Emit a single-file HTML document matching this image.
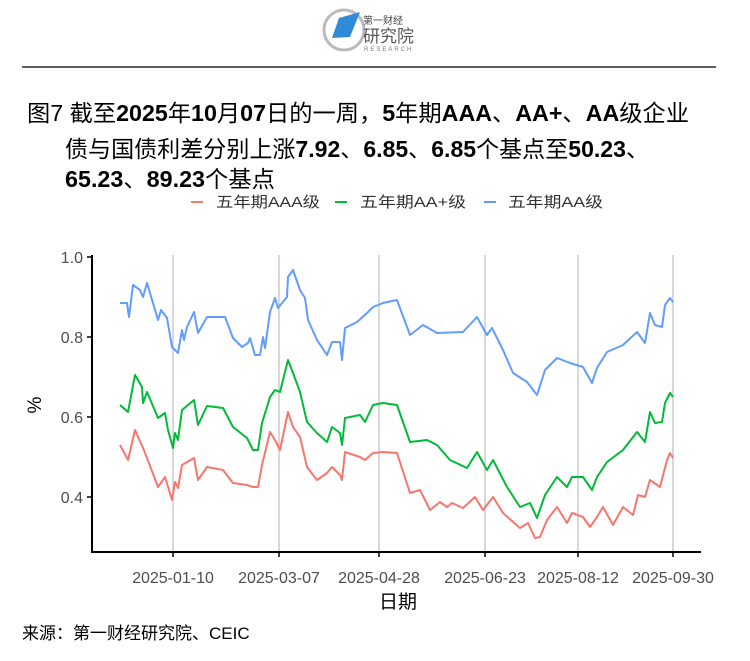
<!DOCTYPE html>
<html><head><meta charset="utf-8"><style>
body{margin:0;background:#fff;width:750px;height:661px;overflow:hidden;font-family:"Liberation Sans","Noto Sans CJK SC",sans-serif}
</style></head><body>
<svg width="750" height="661" xmlns="http://www.w3.org/2000/svg" style="position:absolute;left:0;top:0">
<!-- logo -->
<circle cx="344" cy="30" r="20" fill="none" stroke="#bbb" stroke-width="3"/>
<polygon points="332,38 339,18 360,12 350,37" fill="#2f8ad8"/>
<text x="363" y="24" font-size="10" fill="#444" font-family="Liberation Sans,Noto Sans CJK SC,sans-serif">第一财经</text>
<text x="363" y="42" font-size="17" fill="#555" font-family="Liberation Sans,Noto Sans CJK SC,sans-serif">研究院</text>
<text x="364" y="51" font-size="6" fill="#777" letter-spacing="2" font-family="Liberation Sans,sans-serif">RESEARCH</text>
<line x1="22" y1="67" x2="716" y2="67" stroke="#000" stroke-width="1.2"/>
<g font-size="23" fill="#000" font-family="Liberation Sans,Noto Sans CJK SC,sans-serif">
<text x="27" y="121" textLength="662" lengthAdjust="spacingAndGlyphs">图7  截至<tspan font-weight="bold">2025</tspan>年<tspan font-weight="bold">10</tspan>月<tspan font-weight="bold">07</tspan>日的一周，<tspan font-weight="bold">5</tspan>年期<tspan font-weight="bold">AAA</tspan>、<tspan font-weight="bold">AA+</tspan>、<tspan font-weight="bold">AA</tspan>级企业</text>
<text x="65" y="157" textLength="584" lengthAdjust="spacingAndGlyphs">债与国债利差分别上涨<tspan font-weight="bold">7.92</tspan>、<tspan font-weight="bold">6.85</tspan>、<tspan font-weight="bold">6.85</tspan>个基点至<tspan font-weight="bold">50.23</tspan>、</text>
<text x="65" y="187" textLength="210" lengthAdjust="spacingAndGlyphs"><tspan font-weight="bold">65.23</tspan>、<tspan font-weight="bold">89.23</tspan>个基点</text>
</g>
<!-- legend -->
<g font-size="15" fill="#333">
<line x1="191" y1="202" x2="203" y2="202" stroke="#F8766D" stroke-width="2"/>
<text x="216" y="207" textLength="104" lengthAdjust="spacingAndGlyphs">五年期AAA级</text>
<line x1="335" y1="202" x2="347" y2="202" stroke="#00BA38" stroke-width="2"/>
<text x="360" y="207" textLength="106" lengthAdjust="spacingAndGlyphs">五年期AA+级</text>
<line x1="484" y1="202" x2="496" y2="202" stroke="#619CFF" stroke-width="2"/>
<text x="508" y="207" textLength="95" lengthAdjust="spacingAndGlyphs">五年期AA级</text>
</g>
<!-- grid -->
<g stroke="#bdbdbd" stroke-width="1.2">
<line x1="173" y1="255" x2="173" y2="552"/><line x1="279" y1="255" x2="279" y2="552"/>
<line x1="379" y1="255" x2="379" y2="552"/><line x1="485" y1="255" x2="485" y2="552"/>
<line x1="578" y1="255" x2="578" y2="552"/><line x1="673" y1="255" x2="673" y2="552"/>
</g>
<!-- axes -->
<g stroke="#000" stroke-width="2">
<line x1="92" y1="255" x2="92" y2="553"/><line x1="91" y1="552" x2="701" y2="552"/>
</g>
<g stroke="#000" stroke-width="1.5">
<line x1="87" y1="257" x2="92" y2="257"/><line x1="87" y1="337" x2="92" y2="337"/>
<line x1="87" y1="417" x2="92" y2="417"/><line x1="87" y1="497" x2="92" y2="497"/>
<line x1="173" y1="552" x2="173" y2="557"/><line x1="279" y1="552" x2="279" y2="557"/>
<line x1="379" y1="552" x2="379" y2="557"/><line x1="485" y1="552" x2="485" y2="557"/>
<line x1="578" y1="552" x2="578" y2="557"/><line x1="673" y1="552" x2="673" y2="557"/>
</g>
<g font-size="16" fill="#4d4d4d" text-anchor="end">
<text x="83" y="263">1.0</text><text x="83" y="343">0.8</text><text x="83" y="423">0.6</text><text x="83" y="503">0.4</text>
</g>
<g font-size="16" fill="#4d4d4d" text-anchor="middle">
<text x="173" y="583">2025-01-10</text><text x="279" y="583">2025-03-07</text><text x="379" y="583">2025-04-28</text>
<text x="485" y="583">2025-06-23</text><text x="578" y="583">2025-08-12</text><text x="673" y="583">2025-09-30</text>
</g>
<text x="398" y="608" font-size="19" text-anchor="middle" fill="#000">日期</text>
<text transform="translate(41,405) rotate(-90)" font-size="19" text-anchor="middle" fill="#000">%</text>
<g fill="none" stroke-width="2" stroke-linejoin="round">
<polyline stroke="#619CFF" points="120,303 127,303 129,317 133,285 140,290 143,297 147,283 158,320 161,310 167,318 172,347 178,353 182,330 184,340 187,327 194,312 198,333 207,317 225,317 233,338 242,347 248,343 250,338 255,355 260,355 263,337 265,348 270,312 275,298 278,308 287,297 288,277 293,270 300,290 305,298 308,320 317,340 327,355 332,342 340,342 342,360 345,328 357,322 367,313 373,307 383,303 397,300 410,335 423,325 437,333 463,332 477,317 487,335 492,328 503,350 513,373 527,382 537,395 545,370 557,358 570,363 583,367 592,383 597,368 607,352 623,345 637,332 645,343 650,313 655,325 662,327 665,305 670,298 673,302"/>
<polyline stroke="#00BA38" points="120,405 128,412 135,375 142,387 143,403 147,392 158,418 165,413 168,430 173,448 175,433 178,440 182,410 194,400 198,425 207,406 223,408 233,427 247,438 253,450 258,450 262,423 270,397 275,390 280,392 288,360 293,373 300,392 307,422 317,433 327,442 332,427 340,433 342,445 345,418 360,415 365,422 373,405 383,403 397,405 410,442 427,440 437,445 450,460 467,468 477,452 487,470 493,460 507,487 520,507 530,503 537,518 545,495 557,477 567,487 572,477 583,477 592,490 597,477 607,462 623,450 637,432 645,442 650,412 655,423 662,422 665,403 670,393 673,397"/>
<polyline stroke="#F8766D" points="120,445 128,460 135,430 143,448 147,458 158,487 165,477 172,500 175,482 178,488 182,465 194,458 198,480 207,467 223,470 233,483 247,485 253,487 258,487 262,465 270,432 275,440 280,450 288,412 293,427 300,437 307,467 317,480 327,473 332,467 340,475 342,480 345,452 360,457 365,460 373,453 383,452 397,453 410,493 420,490 430,510 440,502 447,507 452,503 463,508 475,497 483,510 493,497 503,513 520,528 528,523 535,538 540,537 547,520 557,507 567,523 572,513 583,517 590,527 597,517 603,507 613,525 623,507 633,515 638,495 645,497 650,480 660,487 667,460 670,453 673,458"/>
</g>
<text x="22" y="639" font-size="17" fill="#000">来源：第一财经研究院、CEIC</text>
</svg>
</body></html>
